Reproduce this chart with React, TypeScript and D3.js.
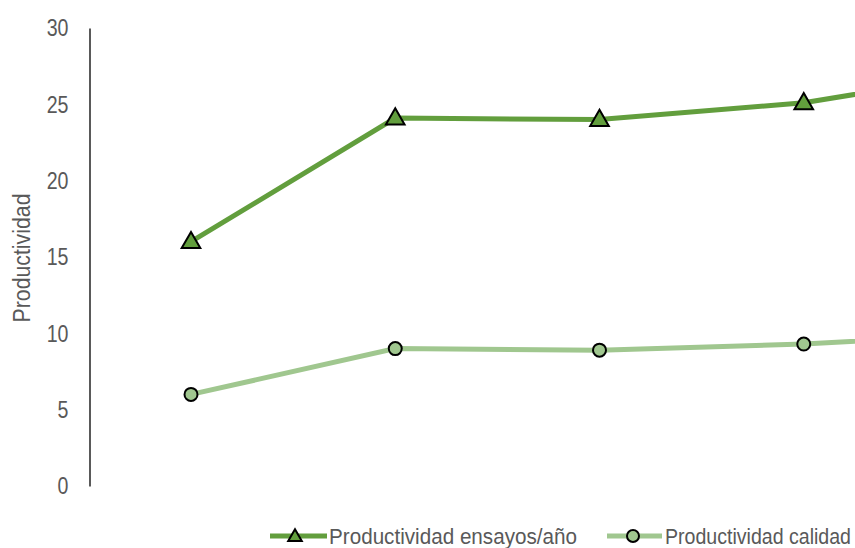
import React, { useRef, useEffect } from 'react';
import * as d3 from 'd3';

const categories = ['P1', 'P2', 'P3', 'P4', 'P5'];
const ensayos = [16.0, 24.1, 24.0, 25.1, 27.3];
const calidad = [6.0, 9.0, 8.9, 9.3, 10.0];
const yTicks = [0, 5, 10, 15, 20, 25, 30];

const FONT = '"Liberation Sans", Arial, sans-serif';
const DARK = '#629e3d';
const LIGHT = '#a0c78f';
const GREY = '#595959';

const App = () => {
  const svgRef = useRef<SVGSVGElement>(null);

  useEffect(() => {
    const width = 855;
    const height = 548;
    const svg = d3.select(svgRef.current);
    svg.selectAll('*').remove();

    const x = d3.scalePoint<string>().domain(categories).range([191, 1008]);
    const y = d3.scaleLinear().domain([0, 30]).range([486, 28]);

    // y axis, narrow-looking labels squeezed with textLength
    const axis = svg.append('g')
      .attr('transform', 'translate(89.5,0)')
      .call(d3.axisLeft(y).tickValues(yTicks).tickSize(0).tickPadding(21));
    axis.select('.domain').attr('stroke', '#000').attr('stroke-width', 1.3);
    axis.selectAll<SVGTextElement, number>('text')
      .attr('fill', GREY)
      .attr('textLength', (d) => String(d).length * 10.9)
      .attr('lengthAdjust', 'spacingAndGlyphs')
      .style('font-family', FONT)
      .style('font-size', '24px');

    svg.append('text')
      .attr('transform', 'translate(30,258) rotate(-90)')
      .attr('text-anchor', 'middle')
      .attr('fill', GREY)
      .attr('textLength', 129)
      .attr('lengthAdjust', 'spacingAndGlyphs')
      .style('font-family', FONT)
      .style('font-size', '23px')
      .text('Productividad');

    const line = d3.line<number>()
      .x((_, i) => x(categories[i]) as number)
      .y((d) => y(d));

    const plot = svg.append('g');
    plot.append('path').datum(calidad)
      .attr('fill', 'none').attr('stroke', LIGHT).attr('stroke-width', 5).attr('d', line);
    plot.append('path').datum(ensayos)
      .attr('fill', 'none').attr('stroke', DARK).attr('stroke-width', 5).attr('d', line);

    const tri = d3.symbol().type(d3.symbolTriangle).size(150);
    plot.selectAll('path.tri').data(ensayos).enter().append('path')
      .attr('class', 'tri')
      .attr('d', tri)
      .attr('transform', (d, i) => `translate(${x(categories[i])},${y(d) + 1})`)
      .attr('fill', DARK).attr('stroke', '#000').attr('stroke-width', 2);

    plot.selectAll('circle.pt').data(calidad).enter().append('circle')
      .attr('class', 'pt')
      .attr('cx', (_, i) => x(categories[i]) as number)
      .attr('cy', (d) => y(d))
      .attr('r', 6.5)
      .attr('fill', LIGHT).attr('stroke', '#000').attr('stroke-width', 2);

    // legend
    const legend = svg.append('g').attr('transform', 'translate(0,536)');
    const l1 = legend.append('g');
    l1.append('line').attr('x1', 270).attr('x2', 327).attr('stroke', DARK).attr('stroke-width', 5);
    l1.append('path').attr('d', d3.symbol().type(d3.symbolTriangle).size(80)).attr('transform', 'translate(295,1)')
      .attr('fill', DARK).attr('stroke', '#000').attr('stroke-width', 2);
    l1.append('text').attr('x', 329).attr('y', 8).attr('fill', GREY)
      .attr('textLength', 248).attr('lengthAdjust', 'spacingAndGlyphs')
      .style('font-family', FONT).style('font-size', '22px').text('Productividad ensayos/año');

    const l2 = legend.append('g');
    l2.append('line').attr('x1', 607).attr('x2', 662).attr('stroke', LIGHT).attr('stroke-width', 5);
    l2.append('circle').attr('cx', 633).attr('cy', 0).attr('r', 6)
      .attr('fill', LIGHT).attr('stroke', '#000').attr('stroke-width', 2);
    l2.append('text').attr('x', 665).attr('y', 8).attr('fill', GREY)
      .attr('textLength', 186).attr('lengthAdjust', 'spacingAndGlyphs')
      .style('font-family', FONT).style('font-size', '22px').text('Productividad calidad');

    svg.attr('width', width).attr('height', height);
  }, []);

  return (
    <svg
      ref={svgRef}
      width={855}
      height={548}
      style={{ position: 'fixed', left: 0, top: 0, background: '#fff', overflow: 'hidden' }}
    />
  );
};

export default App;
